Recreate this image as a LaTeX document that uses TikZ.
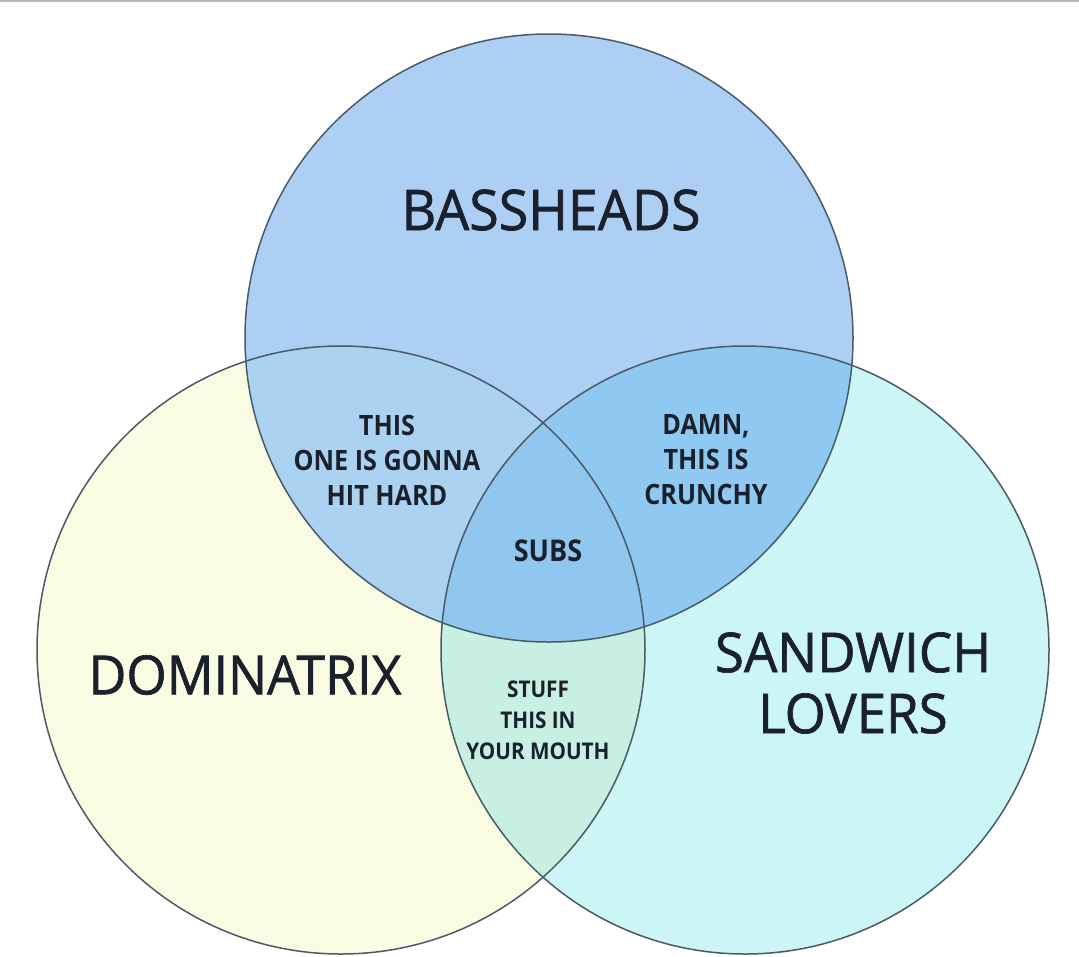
\documentclass[tikz,border=0pt]{standalone}
\usepackage{fontspec}
\setmainfont{Open Sans}
\newfontfamily\bigfont[FakeStretch=0.96,FakeBold=1.2]{Open Sans}
\newfontfamily\smallfont[FakeStretch=0.9]{Open Sans}

\definecolor{inkcol}{HTML}{1A202C}
\definecolor{ringcol}{HTML}{4A5A68}
\definecolor{bassfill}{HTML}{AECFF4}
\definecolor{domfill}{HTML}{FAFBE3}
\definecolor{sandfill}{HTML}{CCF5F5}
\definecolor{tlfill}{HTML}{ABD2F1}
\definecolor{trfill}{HTML}{8FC9F1}
\definecolor{lrfill}{HTML}{C7F0E3}
\definecolor{midfill}{HTML}{91C7EE}

\tikzset{
  ring/.style={draw=ringcol, line width=1.5pt},
  biglabel/.style={text=inkcol, font=\bigfont\fontsize{56}{62}\selectfont, align=center, inner sep=0pt},
  smalllabel/.style={text=inkcol, font=\smallfont\bfseries\fontsize{28}{35}\selectfont, align=center, inner sep=0pt},
  midlabel/.style={text=inkcol, font=\smallfont\bfseries\fontsize{30}{35}\selectfont, inner sep=0pt},
  tinylabel/.style={text=inkcol, font=\smallfont\bfseries\fontsize{23}{31}\selectfont, align=center, inner sep=0pt}
}

\begin{document}
\begin{tikzpicture}[x=1pt,y=-1pt]

\useasboundingbox (0,0) rectangle (1079,956);
\fill[white] (0,0) rectangle (1079,956);
\draw[gray!55, line width=2pt] (0,1) -- (1079,1);

% Define centres
\coordinate (T) at (549,338);
\coordinate (L) at (341,650);
\coordinate (R) at (745,650);

% Fill the three sets
\fill[bassfill] (T) circle (304pt);
\fill[domfill] (L) circle (304pt);
\fill[sandfill] (R) circle (304pt);

% Fill the overlaps
\begin{scope}
  \clip (T) circle (304pt);
  \fill[tlfill] (L) circle (304pt);
  \fill[trfill] (R) circle (304pt);
\end{scope}
\begin{scope}
  \clip (L) circle (304pt);
  \fill[lrfill] (R) circle (304pt);
\end{scope}
\begin{scope}
  \clip (T) circle (304pt);
  \clip (L) circle (304pt);
  \fill[midfill] (R) circle (304pt);
\end{scope}

% Outlines
\draw[ring] (T) circle (304pt);
\draw[ring] (L) circle (304pt);
\draw[ring] (R) circle (304pt);

% Set labels
\node[biglabel] (bass) at (551,210) {BASSHEADS};
\node[biglabel, font=\bigfont\fontsize{54}{62}\selectfont] (dom) at (245,675) {DOMINATRIX};
\node[biglabel, font=\bigfont\fontsize{55}{61}\selectfont] (sand) at (853,683) {SANDWICH\\LOVERS};

% Overlap labels
\node[smalllabel] (hit) at (387,460) {THIS\\ONE IS GONNA\\HIT HARD};
\node[smalllabel] (crunch) at (706,460) {DAMN,\\THIS IS\\CRUNCHY};
\node[midlabel] (subs) at (548,551) {SUBS};
\node[tinylabel] (mouth) at (538,720) {STUFF\\THIS IN\\YOUR MOUTH};

\end{tikzpicture}
\end{document}
